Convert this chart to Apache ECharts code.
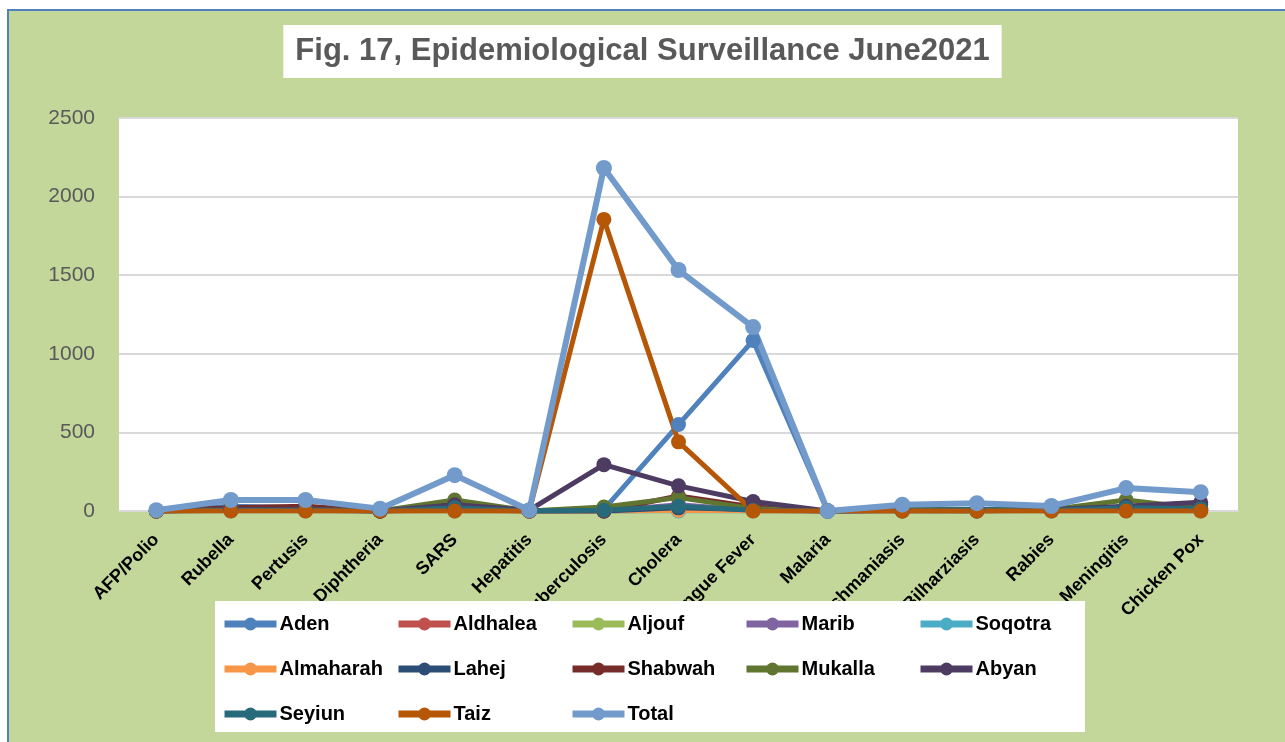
<!DOCTYPE html>
<html>
<head>
<meta charset="utf-8">
<script src="https://cdn.jsdelivr.net/npm/echarts@6/dist/echarts.min.js"></script>
<style>
  html, body { margin: 0; padding: 0; background: #ffffff; width: 1285px; height: 742px; overflow: hidden; }
  #bg { position: absolute; left: 7px; top: 9px; width: 1290px; height: 750px; background: #c4d79b; border-left: 2px solid #4f81bd; border-top: 2px solid #4f81bd; box-sizing: border-box; }
  #chart { position: absolute; left: 0; top: 0; width: 1285px; height: 742px; }
</style>
</head>
<body>
<div id="bg"></div>
<div id="chart"></div>
<script>
const titleText = 'Fig. 17, Epidemiological Surveillance June2021';
const categories = ['AFP/Polio','Rubella','Pertusis','Diphtheria','SARS','Hepatitis','Tuberculosis','Cholera','Dengue Fever','Malaria','Leishmaniasis','Bilharziasis','Rabies','Meningitis','Chicken Pox'];
const yTicks = { min: 0, max: 2500, interval: 500 };

const aden      = [2, 30, 20, 0, 10, 2, 10, 550, 1085, 0, 5, 10, 5, 10, 5];
const aldhalea  = [0, 5, 5, 0, 5, 0, 0, 5, 5, 0, 5, 5, 5, 5, 5];
const aljouf    = [0, 3, 3, 0, 5, 0, 0, 10, 5, 0, 0, 0, 0, 5, 5];
const marib     = [0, 5, 5, 0, 10, 0, 0, 40, 5, 0, 5, 0, 5, 5, 5];
const soqotra   = [0, 0, 0, 0, 0, 0, 0, 0, 0, 0, 0, 0, 0, 0, 0];
const almaharah = [0, 2, 2, 0, 2, 0, 0, 5, 2, 0, 0, 0, 2, 2, 2];
const lahej     = [0, 10, 10, 0, 30, 0, 0, 20, 10, 0, 10, 10, 5, 20, 40];
const shabwah   = [0, 20, 30, 0, 10, 0, 0, 95, 25, 0, 5, 10, 5, 10, 10];
const mukalla   = [0, 10, 10, 0, 70, 0, 25, 85, 15, 0, 10, 10, 10, 70, 15];
const abyan     = [0, 10, 10, 0, 40, 5, 295, 160, 60, 0, 0, 0, 10, 30, 55];
const seyiun    = [0, 5, 5, 0, 20, 0, 5, 30, 5, 0, 5, 10, 5, 20, 15];
const taiz      = [0, 0, 0, 0, 0, 0, 1855, 440, 0, 0, 0, 0, 0, 0, 0];
const total     = [5, 70, 70, 15, 228, 5, 2182, 1533, 1170, 0, 40, 50, 32, 146, 120];

const seriesDefs = [
  ['Aden', aden, '#4f81bd'],
  ['Aldhalea', aldhalea, '#c0504d'],
  ['Aljouf', aljouf, '#9bbb59'],
  ['Marib', marib, '#8064a2'],
  ['Soqotra', soqotra, '#4bacc6'],
  ['Almaharah', almaharah, '#f79646'],
  ['Lahej', lahej, '#2c4d75'],
  ['Shabwah', shabwah, '#772c2a'],
  ['Mukalla', mukalla, '#5f7530'],
  ['Abyan', abyan, '#4d3b62'],
  ['Seyiun', seyiun, '#276a7c'],
  ['Taiz', taiz, '#b65708'],
  ['Total', total, '#729aca']
];

const FONT = '"Liberation Sans", Arial, sans-serif';

const series = seriesDefs.map(([name, data, color]) => ({
  name: name,
  type: 'line',
  data: data,
  symbol: 'circle',
  symbolSize: name === 'Total' ? 16 : 15,
  showSymbol: true,
  lineStyle: { color: color, width: name === 'Total' ? 6 : 5 },
  itemStyle: { color: color },
  emphasis: { disabled: true },
  animation: false
}));

const columns = [
  ['Aden', 'Almaharah', 'Seyiun'],
  ['Aldhalea', 'Lahej', 'Taiz'],
  ['Aljouf', 'Shabwah', 'Total'],
  ['Marib', 'Mukalla'],
  ['Soqotra', 'Abyan']
];
const legends = columns.map((names, i) => ({
  data: names,
  orient: 'vertical',
  left: 221 + i * 174,
  top: 614,
  itemWidth: 52,
  itemHeight: 16,
  itemGap: 25,
  padding: 0,
  selectedMode: false,
  z: 5,
  lineStyle: { width: 7 },
  textStyle: { fontFamily: FONT, fontWeight: 'bold', fontSize: 20, color: '#000000', padding: [0, 0, 0, -2] }
}));

const chart = echarts.init(document.getElementById('chart'), null, { renderer: 'canvas' });
chart.setOption({
  backgroundColor: 'transparent',
  animation: false,
  title: {
    text: titleText,
    left: 'center',
    top: 25,
    backgroundColor: '#ffffff',
    padding: [11, 12, 11, 12],
    textStyle: { fontFamily: FONT, fontWeight: 'bold', fontSize: 31, color: '#595959' }
  },
  graphic: [{
    type: 'rect',
    shape: { x: 215, y: 601, width: 870, height: 131 },
    style: { fill: '#ffffff' },
    z: 3
  }],
  legend: legends,
  grid: {
    left: 119, top: 118, width: 1119, height: 393,
    show: true, backgroundColor: '#ffffff', borderWidth: 0
  },
  xAxis: {
    type: 'category',
    data: categories,
    boundaryGap: true,
    axisLine: { show: true, lineStyle: { color: '#d9d9d9', width: 2 } },
    axisTick: { show: false },
    axisLabel: {
      interval: 0, rotate: 45, margin: 26,
      fontFamily: FONT, fontWeight: 'bold', fontSize: 18, color: '#000000'
    },
    splitLine: { show: false }
  },
  yAxis: {
    type: 'value',
    min: yTicks.min, max: yTicks.max, interval: yTicks.interval,
    axisLine: { show: false },
    axisTick: { show: false },
    axisLabel: { margin: 24, fontFamily: FONT, fontSize: 21, color: '#595959', formatter: v => String(v) },
    splitLine: { lineStyle: { color: '#d9d9d9', width: 2 } }
  },
  series: series
});
</script>
</body>
</html>
